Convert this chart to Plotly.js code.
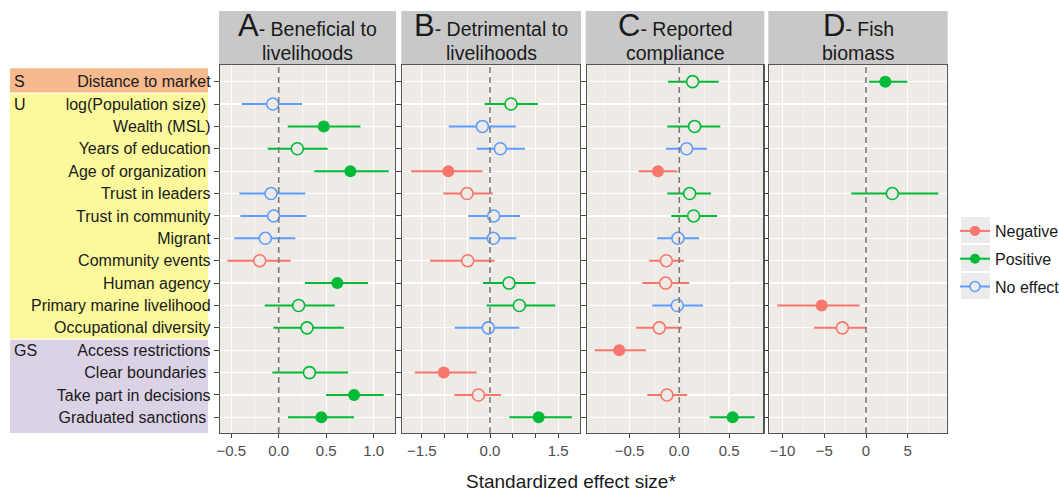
<!DOCTYPE html>
<html><head><meta charset="utf-8">
<script src="https://cdn.plot.ly/plotly-3.0.1.min.js"></script>
<style>html,body{margin:0;padding:0;background:#fff}#chart{width:1059px;height:491px}</style>
</head><body><div id="chart"></div>
<script>
// ---------- DATA ----------
const rows = ["Distance to market","log(Population size)","Wealth (MSL)","Years of education","Age of organization","Trust in leaders","Trust in community","Migrant","Community events","Human agency","Primary marine livelihood","Occupational diversity","Access restrictions","Clear boundaries","Take part in decisions","Graduated sanctions"];
const rowLabels = ["Distance to market","log(Population size)\u00a0","Wealth (MSL)","Years of education","Age of organization\u00a0","Trust in leaders","Trust in community","Migrant","Community events","Human agency","Primary marine livelihood","Occupational diversity","Access restrictions","Clear boundaries\u00a0","Take part in decisions","Graduated sanctions\u00a0"];
const groupNames = ["S","U","GS"];
const groupStartRow = [0,1,12];

// A - Beneficial to livelihoods
const estA = [null,-0.063,0.474,0.196,0.754,-0.081,-0.053,-0.141,-0.200,0.617,0.210,0.298,null,0.323,0.793,0.449];
const loA  = [null,-0.390,0.095,-0.116,0.375,-0.414,-0.404,-0.467,-0.540,0.277,-0.147,-0.056,null,-0.067,0.498,0.098];
const hiA  = [null,0.245,0.860,0.515,1.158,0.280,0.291,0.175,0.126,0.940,0.589,0.684,null,0.730,1.105,0.793];
const effA = [null,"No effect","Positive","Positive","Positive","No effect","No effect","No effect","Negative","Positive","Positive","Positive",null,"Positive","Positive","Positive"];
const sigA = [0,0,1,0,1,0,0,0,0,1,0,0,0,0,1,1];

// B - Detrimental to livelihoods
const estB = [null,0.462,-0.168,0.227,-0.916,-0.505,0.081,0.073,-0.490,0.418,0.645,-0.037,null,-1.018,-0.256,1.070];
const loB  = [null,-0.117,-0.908,-0.293,-1.736,-1.026,-0.476,-0.454,-1.319,-0.154,-0.073,-0.776,null,-1.656,-0.784,0.425];
const hiB  = [null,1.055,0.571,0.769,-0.168,0.059,0.659,0.579,0.095,0.996,1.436,0.645,null,-0.293,0.242,1.802];
const effB = [null,"Positive","No effect","No effect","Negative","Negative","No effect","No effect","Negative","Positive","Positive","No effect",null,"Negative","Negative","Positive"];
const sigB = [0,0,0,0,1,0,0,0,0,0,0,0,0,1,0,1];

// C - Reported compliance
const estC = [0.134,null,0.154,0.074,-0.214,0.104,0.144,-0.013,-0.130,-0.137,-0.020,-0.201,-0.603,null,-0.124,0.536];
const loC  = [-0.114,null,-0.120,-0.134,-0.408,-0.120,-0.080,-0.224,-0.301,-0.372,-0.271,-0.432,-0.850,null,-0.322,0.305];
const hiC  = [0.396,null,0.412,0.278,-0.020,0.318,0.379,0.198,0.047,0.100,0.238,0.027,-0.335,null,0.080,0.758];
const effC = ["Positive",null,"Positive","No effect","Negative","Positive","Positive","No effect","Negative","Negative","No effect","Negative","Negative",null,"Negative","Positive"];
const sigC = [0,0,0,0,1,0,0,0,0,0,0,0,1,0,0,1];

// D - Fish biomass
const estD = [2.31,null,null,null,null,3.15,null,null,null,null,-5.31,-2.83,null,null,null,null];
const loD  = [0.36,null,null,null,null,-1.76,null,null,null,null,-10.62,-6.23,null,null,null,null];
const hiD  = [4.95,null,null,null,null,8.66,null,null,null,null,-0.76,0.12,null,null,null,null];
const effD = ["Positive",null,null,null,null,"Positive",null,null,null,null,"Negative","Negative",null,null,null,null];
const sigD = [1,0,0,0,0,0,0,0,0,0,1,0,0,0,0,0];

const stripLetters = ["A","B","C","D"];
const stripLine1 = ["- Beneficial to","- Detrimental to","- Reported","- Fish"];
const stripLine2 = ["livelihoods","livelihoods","compliance","biomass"];

const tickValsA = [-0.5,0,0.5,1.0], tickTextA = ["\u22120.5","0.0","0.5","1.0"], minorA=[-0.25,0.25,0.75];
const tickValsB = [-1.5,-1,-0.5,0,0.5,1,1.5], tickTextB = ["\u22121.5","","","0.0","","","1.5"], minorB=null;
const tickValsC = [-0.5,0,0.5], tickTextC = ["\u22120.5","0.0","0.5"], minorC=[-0.75,-0.25,0.25,0.75];
const tickValsD = [-10,-5,0,5], tickTextD = ["\u221210","\u22125","0","5"], minorD=[-7.5,-2.5,2.5,7.5];

const legendNames = ["Negative","Positive","No effect"];
const xTitle = "Standardized effect size*";

// ---------- STYLE / LAYOUT ----------
const W=1059,H=491;
const px=v=>v/W, py=v=>1-v/H;
const FONT="Liberation Sans, Arial, Helvetica, sans-serif";
const colorOf={"Negative":"#F8766D","Positive":"#00BA38","No effect":"#619CFF"};
const BG="#EEEBE6";
const panelTop=65, panelBot=433;

const panels=[
 {est:estA,lo:loA,hi:hiA,eff:effA,sig:sigA,xa:"x",ya:"y",dom:[220,395],range:[-0.618,1.224],tv:tickValsA,tt:tickTextA,mv:minorA},
 {est:estB,lo:loB,hi:hiB,eff:effB,sig:sigB,xa:"x2",ya:"y2",dom:[402.3,580],range:[-1.93,1.98],tv:tickValsB,tt:tickTextB,mv:minorB},
 {est:estC,lo:loC,hi:hiC,eff:effC,sig:sigC,xa:"x3",ya:"y3",dom:[586.7,763.3],range:[-0.93,0.844],tv:tickValsC,tt:tickTextC,mv:minorC},
 {est:estD,lo:loD,hi:hiD,eff:effD,sig:sigD,xa:"x4",ya:"y4",dom:[769.3,946.7],range:[-11.58,9.66],tv:tickValsD,tt:tickTextD,mv:minorD}
];

const traces=[];
panels.forEach(p=>{
  [["Negative",1],["Negative",0],["Positive",1],["Positive",0],["No effect",1],["No effect",0]].forEach(([eff,fill])=>{
    const idx=rows.map((_,i)=>i).filter(i=>p.est[i]!==null&&p.eff[i]===eff&&p.sig[i]===fill);
    if(!idx.length) return;
    const c=colorOf[eff];
    traces.push({type:"scatter",mode:"markers",xaxis:p.xa,yaxis:p.ya,showlegend:false,
      x:idx.map(i=>p.est[i]),y:idx.map(i=>rows[i]),
      error_x:{type:"data",symmetric:false,array:idx.map(i=>p.hi[i]-p.est[i]),arrayminus:idx.map(i=>p.est[i]-p.lo[i]),width:0,thickness:2,color:c},
      marker:{symbol:"circle",size:12,color:fill?c:BG,line:{color:c,width:fill?0:1.6}}});
  });
});
legendNames.forEach((n,k)=>{
  const c=colorOf[n], open=(n==="No effect");
  traces.push({type:"scatter",mode:"lines+markers",x:[null],y:[null],xaxis:"x",yaxis:"y",name:n,legendgroup:n,
    line:{color:c,width:2},marker:{symbol:"circle",size:10,color:open?"#EBEBEB":c,line:{color:c,width:open?1.5:0}}});
});

const layout={width:W,height:H,autosize:false,margin:{l:0,r:0,t:0,b:0,autoexpand:false},paper_bgcolor:"#fff",plot_bgcolor:BG,
  font:{family:FONT,color:"#1a1a1a"},showlegend:true,
  legend:{x:px(955),y:py(214),xanchor:"left",yanchor:"top",font:{size:16,family:FONT,color:"#1a1a1a"},bgcolor:"rgba(0,0,0,0)",itemwidth:30,tracegroupgap:4,traceorder:"grouped"},
  shapes:[],annotations:[]};

panels.forEach((p,k)=>{
  const s=k===0?"":String(k+1);
  const xa={domain:[px(p.dom[0]),px(p.dom[1])],anchor:"y"+s,range:p.range,tickmode:"array",tickvals:p.tv,ticktext:p.tt,
    showgrid:true,gridcolor:"#fff",gridwidth:1.3,zeroline:false,ticks:"outside",ticklen:4,tickcolor:"#444",tickwidth:1,
    tickfont:{size:15,color:"#4d4d4d",family:FONT},showline:true,mirror:true,linecolor:"#555",linewidth:1.2,fixedrange:true};
  if(p.mv) xa.minor={tickmode:"array",tickvals:p.mv,showgrid:true,gridcolor:"#fff",gridwidth:0.6,ticks:""};
  layout["xaxis"+s]=xa;
  const ya={domain:[py(panelBot),py(panelTop)],anchor:"x"+s,type:"category",categoryarray:rows,range:[15.7,-0.745],
    showgrid:true,gridcolor:"#fff",gridwidth:1.3,zeroline:false,ticks:"outside",ticklen:5,tickcolor:"#444",tickwidth:1,
    showline:true,mirror:true,linecolor:"#555",linewidth:1.2,fixedrange:true};
  if(k===0){ya.tickmode="array";ya.tickvals=rows;ya.ticktext=rowLabels;ya.tickfont={size:16,color:"#1a1a1a",family:FONT};}
  else{ya.matches="y";ya.showticklabels=false;}
  layout["yaxis"+s]=ya;
  // zero dashed line
  layout.shapes.push({type:"line",xref:"x"+s,yref:"paper",x0:0,x1:0,y0:py(panelBot),y1:py(panelTop),layer:"above",line:{color:"#7a7a7a",width:1.6,dash:"6px,4px"}});
  // strip
  layout.shapes.push({type:"rect",xref:"paper",yref:"paper",x0:px(p.dom[0]-1),x1:px(p.dom[1]+1),y0:py(64.5),y1:py(11),fillcolor:"#C8C8C8",line:{width:0},layer:"below"});
  const cx=px((p.dom[0]+p.dom[1])/2);
  layout.annotations.push({xref:"paper",yref:"paper",x:cx,y:py(26),xanchor:"center",yanchor:"middle",showarrow:false,
    text:"<span style='font-size:31px'>"+stripLetters[k]+"</span>"+stripLine1[k],font:{size:19.5,color:"#1a1a1a",family:FONT}});
  layout.annotations.push({xref:"paper",yref:"paper",x:cx,y:py(53),xanchor:"center",yanchor:"middle",showarrow:false,
    text:stripLine2[k],font:{size:19.5,color:"#1a1a1a",family:FONT}});
});

// group boxes on the left
const rowPx=i=>81.7+i*22.4;
const boxes=[[rowPx(-0.6),rowPx(0.5)-0.5,"#F7B98E"],[rowPx(0.5)+0.5,rowPx(11.5)-0.5,"#FBF99C"],[rowPx(11.5)+0.5,433,"#DCD2E6"]];
boxes.forEach(b=>layout.shapes.push({type:"rect",xref:"paper",yref:"paper",x0:px(10),x1:px(208),y0:py(b[1]),y1:py(b[0]),fillcolor:b[2],line:{width:0},layer:"below"}));
groupNames.forEach((g,k)=>layout.annotations.push({xref:"paper",yref:"paper",x:px(12),y:py(rowPx(groupStartRow[k])),xanchor:"left",yanchor:"middle",showarrow:false,text:g,font:{size:16,color:"#1a1a1a",family:FONT}}));

// legend key boxes
[217,245,273].forEach(t=>layout.shapes.push({type:"rect",xref:"paper",yref:"paper",x0:px(961),x1:px(990),y0:py(t+26),y1:py(t),fillcolor:"#EBEBEB",line:{width:0},layer:"below"}));

layout.annotations.push({xref:"paper",yref:"paper",x:px(571),y:py(481),xanchor:"center",yanchor:"middle",showarrow:false,text:xTitle,font:{size:19,color:"#1a1a1a",family:FONT}});

Plotly.newPlot("chart",traces,layout,{displayModeBar:false,staticPlot:true});
</script></body></html>
